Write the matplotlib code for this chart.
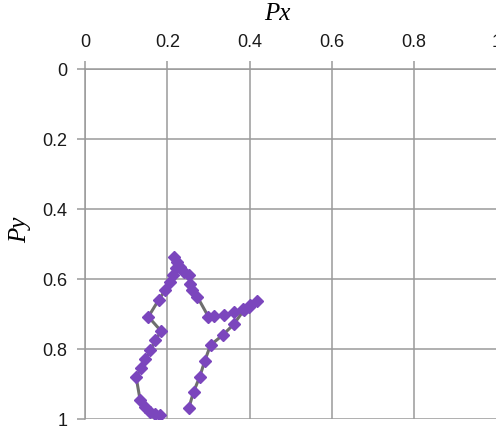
import matplotlib
matplotlib.use("Agg")
import matplotlib.pyplot as plt

# Trajectory points (Px, Py), in drawing order
px = [0.252, 0.264, 0.279, 0.291, 0.305, 0.335, 0.362, 0.386, 0.402, 0.419,
      0.398, 0.384, 0.362, 0.337, 0.313, 0.300,
      0.273, 0.260, 0.256, 0.252, 0.240, 0.232, 0.224, 0.217,
      0.222, 0.215, 0.207, 0.195, 0.179, 0.154, 0.185, 0.171, 0.159, 0.146,
      0.137, 0.124, 0.134, 0.146, 0.159, 0.171, 0.183]
py = [0.969, 0.921, 0.878, 0.833, 0.788, 0.759, 0.728, 0.688, 0.674, 0.661,
      0.678, 0.685, 0.694, 0.702, 0.705, 0.707,
      0.650, 0.631, 0.612, 0.588, 0.578, 0.564, 0.550, 0.536,
      0.568, 0.588, 0.607, 0.631, 0.659, 0.707, 0.748, 0.774, 0.802, 0.829,
      0.854, 0.878, 0.945, 0.964, 0.978, 0.985, 0.988]

ticks = [0, 0.2, 0.4, 0.6, 0.8, 1]
tick_labels = ["0", "0.2", "0.4", "0.6", "0.8", "1"]

fig = plt.figure(figsize=(4.96, 4.29), dpi=100)
ax = fig.add_axes([85 / 496, (429 - 419.3) / 429, 411.5 / 496, 350 / 429])

ax.plot(px, py, color="#6e6e6e", lw=2.2, marker="D", markersize=6.2,
        markerfacecolor="#7b46bd", markeredgecolor="#7b46bd", zorder=3)

ax.set_xlim(0, 1)
ax.set_ylim(1, 0)
ax.set_xticks(ticks)
ax.set_xticklabels(tick_labels)
ax.set_yticks(ticks)
ax.set_yticklabels(tick_labels)
ax.xaxis.tick_top()
ax.grid(True, color="#9a9a9a", lw=1.1)
for s in ["right", "bottom"]:
    ax.spines[s].set_visible(False)
for s in ["top", "left"]:
    ax.spines[s].set_color("#9a9a9a")
    ax.spines[s].set_linewidth(1.1)
ax.tick_params(axis="both", colors="#9a9a9a", labelcolor="#1a1a1a",
               length=6, width=1.1, labelsize=13)
ax.tick_params(axis="x", pad=7.5)
ax.tick_params(axis="y", pad=6.5)
for lab in ax.get_xticklabels() + ax.get_yticklabels():
    lab.set_family("Liberation Sans")

fig.text(277 / 496, 1 - 14.5 / 429, "Px", ha="center", va="center",
         family="Liberation Serif", style="italic", fontsize=18)
fig.text(20 / 496, 1 - 229.5 / 429, "Py", ha="center", va="center",
         rotation=90, family="Liberation Serif", style="italic", fontsize=18)

fig.savefig("out.png", dpi=100)
